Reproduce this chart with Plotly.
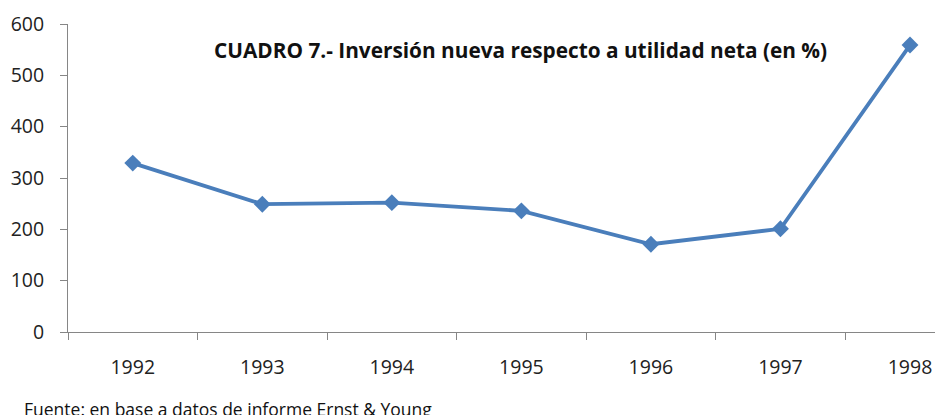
import plotly.graph_objects as go

years = ["1992", "1993", "1994", "1995", "1996", "1997", "1998"]
values = [329, 249, 252, 236, 171, 201, 559]
y_ticks = [0, 100, 200, 300, 400, 500, 600]

title_text = "CUADRO 7.- Inversión nueva respecto a utilidad neta (en %)"
source_text = "Fuente: en base a datos de informe Ernst &amp; Young"

FONT = "'Open Sans', Lato, sans-serif"
AXIS_GREY = "#868686"

fig = go.Figure()
fig.add_trace(go.Scatter(
    x=years, y=values, mode="lines+markers",
    line=dict(color="#4a7ebb", width=3.8),
    marker=dict(symbol="diamond", size=13, color="#4a7ebb"),
    showlegend=False, cliponaxis=False, hoverinfo="skip",
))

fig.update_layout(
    width=935, height=415,
    margin=dict(l=68, r=0, t=24, b=83, autoexpand=False),
    paper_bgcolor="white", plot_bgcolor="white",
    font=dict(family=FONT, color="#222222"),
    xaxis=dict(
        type="category", range=[-0.5, 6.193], automargin=False,
        tickson="boundaries", ticks="outside", ticklen=7, tickcolor=AXIS_GREY,
        showline=True, linecolor=AXIS_GREY, linewidth=1,
        showgrid=False, zeroline=False,
        tickfont=dict(size=19.5, color="#222222"), ticklabelstandoff=18,
    ),
    yaxis=dict(
        range=[0, 600], tickvals=y_ticks, ticks="outside", ticklen=7, automargin=False,
        tickcolor=AXIS_GREY, showline=True, linecolor=AXIS_GREY, linewidth=1,
        showgrid=False, zeroline=False,
        tickfont=dict(size=19.5, color="#222222"), ticklabelstandoff=12,
    ),
    annotations=[
        dict(text="<b>" + title_text + "</b>", xref="paper", yref="paper",
             x=(520 - 68) / 867, y=(331.7 - 50) / 307.7, xanchor="center", yanchor="middle",
             showarrow=False, font=dict(size=20.8, family=FONT, color="#111111")),
        dict(text=source_text, xref="paper", yref="paper",
             x=-(68 - 22) / 867, y=-(409 - 331.7) / 307.7, xanchor="left", yanchor="middle",
             showarrow=False, font=dict(size=17.5, family=FONT, color="#111111")),
    ],
)

fig.write_html(
    "out.html",
    config={"displayModeBar": False},
    post_script="document.body.style.margin='0px';document.body.style.overflow='hidden';",
)
